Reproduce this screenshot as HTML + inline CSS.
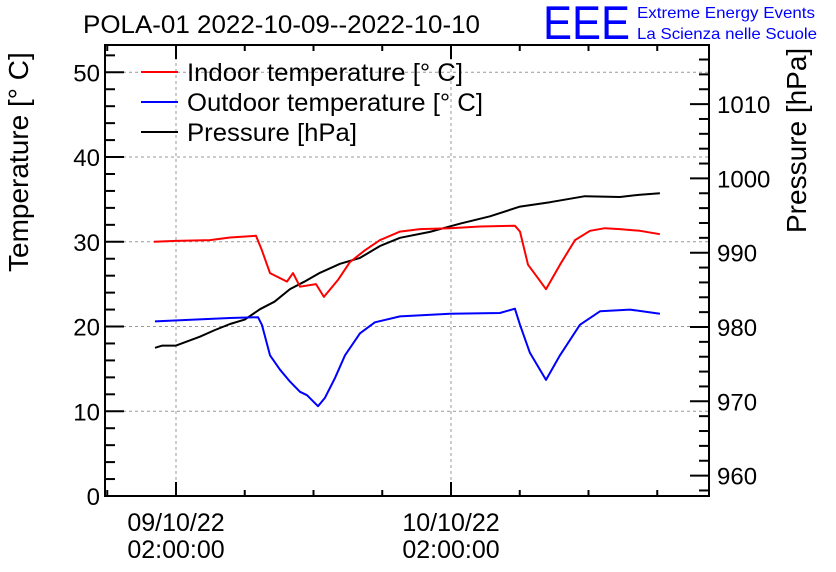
<!DOCTYPE html>
<html><head><meta charset="utf-8"><style>
html,body{margin:0;padding:0;background:#fff;}
svg{display:block;font-family:"Liberation Sans",Arial,sans-serif;}
</style></head><body>
<svg id="chart" width="836" height="572" viewBox="0 0 836 572" xmlns="http://www.w3.org/2000/svg">
<rect width="836" height="572" fill="#fff"/>
<text x="83" y="33" font-size="25" fill="#000" textLength="397" lengthAdjust="spacingAndGlyphs">POLA-01 2022-10-09--2022-10-10</text>
<text x="543" y="39" font-size="47" fill="#0000ff" textLength="87" lengthAdjust="spacingAndGlyphs">EEE</text>
<text x="637" y="18" font-size="16" fill="#0000ff" textLength="178" lengthAdjust="spacingAndGlyphs">Extreme Energy Events</text>
<text x="637" y="39" font-size="16" fill="#0000ff" textLength="180" lengthAdjust="spacingAndGlyphs">La Scienza nelle Scuole</text>
<g id="grid"></g>
<g id="axes"></g>
<g id="series"></g>
<g>
 <line x1="141" y1="72" x2="178" y2="72" stroke="#ff0000" stroke-width="2"/>
 <text x="187" y="81" font-size="25" textLength="276" lengthAdjust="spacingAndGlyphs">Indoor temperature [° C]</text>
 <line x1="141" y1="102" x2="178" y2="102" stroke="#0000ff" stroke-width="2"/>
 <text x="187" y="111" font-size="25" textLength="296" lengthAdjust="spacingAndGlyphs">Outdoor temperature [° C]</text>
 <line x1="141" y1="132" x2="178" y2="132" stroke="#000" stroke-width="2"/>
 <text x="187" y="141" font-size="25" textLength="170" lengthAdjust="spacingAndGlyphs">Pressure [hPa]</text>
</g>
<text transform="translate(28,272) rotate(-90)" text-anchor="start" font-size="28">Temperature [° C]</text>
<text transform="translate(806,233) rotate(-90)" text-anchor="start" font-size="28">Pressure [hPa]</text>
</svg>
<script>
// hours relative to 09/10/22 02:00:00
const indoorHours=[-1.92,0,2.97,4.71,6.98,7.5,8.2,9.69,10.21,10.82,12.22,12.91,14.14,15.18,16.49,17.8,19.55,21.29,23.91,26.53,29.58,30.02,30.72,31.59,32.29,33.51,34.82,36.13,37.43,38.74,40.49,42.23];
const indoorTemp=[30.0,30.1,30.2,30.5,30.7,29.0,26.3,25.3,26.3,24.7,25.0,23.5,25.5,27.6,29.0,30.2,31.2,31.5,31.6,31.8,31.9,31.2,27.3,25.7,24.4,27.3,30.2,31.3,31.6,31.5,31.3,30.9];
const outdoorHours=[-1.83,4.71,7.16,7.5,8.2,9.08,9.95,10.82,11.43,12.39,13,13.87,14.75,16.06,17.36,19.55,23.91,28.27,29.58,30.02,30.89,32.29,33.51,35.25,37,39.62,42.23];
const outdoorTemp=[20.6,21.0,21.1,20.2,16.6,14.9,13.5,12.3,11.9,10.6,11.6,13.9,16.6,19.2,20.5,21.2,21.5,21.6,22.1,20.2,16.9,13.7,16.6,20.2,21.8,22.0,21.5];
const pressureHours=[-1.83,-1.2,0,2.09,3.4,4.71,6.0,7.33,8.6,9.95,11.2,12.57,14.31,16.06,17.8,19.55,22.16,24.78,27.4,30.02,32.64,35.69,38.74,40.5,42.23];
const pressureVals=[977.2,977.5,977.5,978.7,979.6,980.4,981.0,982.4,983.4,985.1,986.1,987.3,988.5,989.3,990.9,992.0,992.8,993.9,994.9,996.2,996.8,997.6,997.5,997.8,998.0];
const tempTicks=[0,10,20,30,40,50];
const pressTicks=[960,970,980,990,1000,1010];
const xTickHours=[0,24];
const xTickLabels=[["09/10/22","02:00:00"],["10/10/22","02:00:00"]];

const L=105,R=709,T=45,B=496;
const xS=h=>176+h*(451-176)/24;
const yT=t=>B-t*(B-72.3)/50;
const yP=p=>327-(p-980)*7.43;
const NS="http://www.w3.org/2000/svg";
function mk(tag,attrs,parent){const e=document.createElementNS(NS,tag);for(const k in attrs)e.setAttribute(k,attrs[k]);parent.appendChild(e);return e;}
const grid=document.getElementById('grid'),axes=document.getElementById('axes'),ser=document.getElementById('series');

tempTicks.forEach(t=>{if(t>0){const g=mk('line',{x1:L,x2:R,y1:yT(t),y2:yT(t),stroke:'#999','stroke-dasharray':'3,3','stroke-width':1},grid);

}});
xTickHours.forEach(h=>{const g=mk('line',{x1:xS(h),x2:xS(h),y1:T,y2:B,stroke:'#999','stroke-dasharray':'3,3','stroke-width':1},grid);

});

const frame=mk('rect',{x:L,y:T,width:R-L,height:B-T,fill:'none',stroke:'#000','stroke-width':2},axes);



for(let t=0;t<=52;t+=2){const maj=t%10===0;mk('line',{x1:L,x2:L+(maj?19:10),y1:yT(t),y2:yT(t),stroke:'#000','stroke-width':2},axes);}
tempTicks.forEach(t=>{const e=mk('text',{x:L-5,y:yT(t)+9,'text-anchor':'end','font-size':24},axes);e.textContent=t;

});
for(let p=958;p<=1018;p+=2){const y=yP(p);if(y<T||y>B)continue;const maj=p%10===0;mk('line',{x1:R,x2:R-(maj?19:10),y1:y,y2:y,stroke:'#000','stroke-width':2},axes);}
pressTicks.forEach(p=>{const e=mk('text',{x:R+8,y:yP(p)+9,'font-size':24},axes);e.textContent=p;

});
for(let h=-6;h<=48;h+=6){const x=xS(h);if(x<=L+1||x>=R-1)continue;const maj=h%24===0;
mk('line',{x1:x,x2:x,y1:B,y2:B-(maj?14:6),stroke:'#000','stroke-width':2},axes);
mk('line',{x1:x,x2:x,y1:T,y2:T+(maj?14:6),stroke:'#000','stroke-width':2},axes);}
xTickHours.forEach((h,i)=>{xTickLabels[i].forEach((s,j)=>{const e=mk('text',{x:xS(h),y:531+j*27,'text-anchor':'middle','font-size':25},axes);e.textContent=s;

});});

function line(hs,vs,yf,color,name){const d=hs.map((h,i)=>(i?'L':'M')+xS(h).toFixed(1)+','+yf(vs[i]).toFixed(1)).join('');
const p=mk('path',{d:d,fill:'none',stroke:color,'stroke-width':2,'stroke-linejoin':'round'},ser);

}
line(pressureHours,pressureVals,yP,'#000','pressure-line');
line(outdoorHours,outdoorTemp,yT,'#0000ff','outdoor-temperature-line');
line(indoorHours,indoorTemp,yT,'#ff0000','indoor-temperature-line');
</script>
</body></html>
